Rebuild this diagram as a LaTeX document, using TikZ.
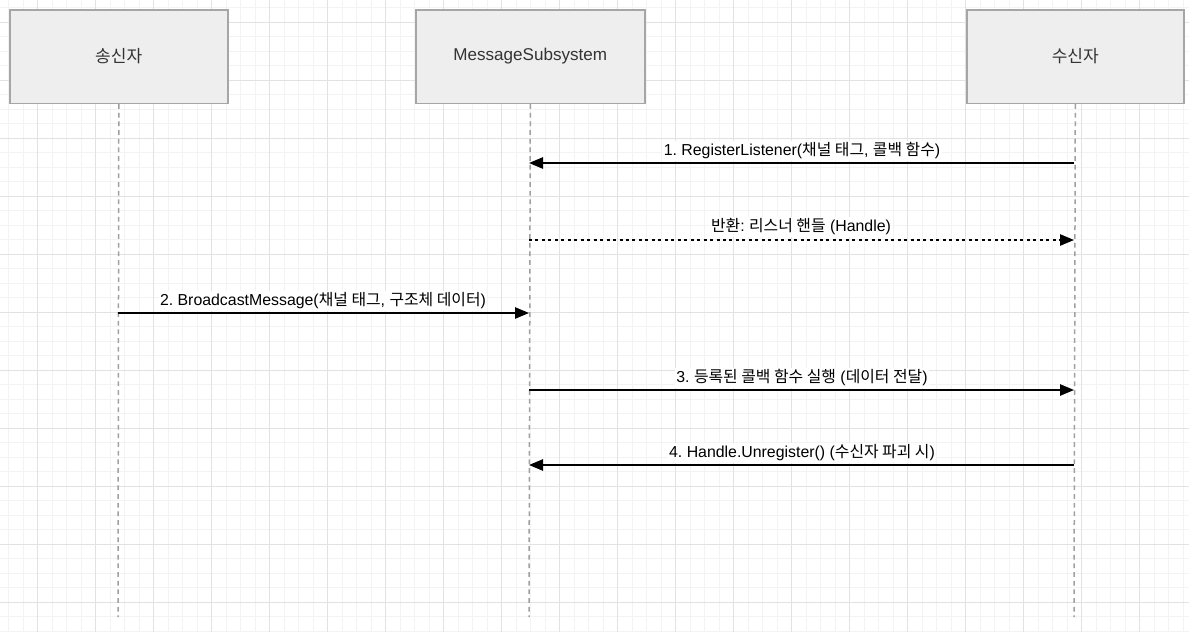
\documentclass[tikz,border=0pt]{standalone}
\usepackage{fontspec}
\setmainfont{Liberation Sans}
\newfontfamily\cjk{Noto Sans CJK KR}
\newcommand\hk[1]{{\cjk #1}}
\usetikzlibrary{arrows.meta}
\frenchspacing
\definecolor{minorgrid}{HTML}{F3F3F3}
\definecolor{majorgrid}{HTML}{E2E2E2}
\definecolor{boxfill}{HTML}{EEEEEE}
\definecolor{boxline}{HTML}{A6A6A6}
\definecolor{lifeline}{HTML}{A0A0A0}
\definecolor{boxtext}{HTML}{333333}
\tikzset{
  actor/.style={draw=boxline, fill=boxfill, line width=1.6pt*0.75, text=boxtext,
    font=\fontsize{12.8pt}{15pt}\selectfont, inner sep=0pt, anchor=north west},
  lifelinestyle/.style={draw=lifeline, line width=1.5*0.75pt, dash pattern=on 3.6pt off 2.9pt},
  msg/.style={draw=black, line width=1.5*0.75pt, -{Triangle[length=10.5pt,width=8.5pt]}},
  retmsg/.style={draw=black, line width=1.5*0.75pt, dash pattern=on 2.25pt off 2.6pt, -{Triangle[length=10.5pt,width=8.5pt]}},
  msglabel/.style={fill=white, inner sep=1pt, font=\fontsize{11.9pt}{14pt}\selectfont, text=black},
  minorline/.style={draw=minorgrid, line width=0.75pt},
  majorline/.style={draw=majorgrid, line width=0.75pt}
}
\begin{document}
\begin{tikzpicture}[x=0.75pt,y=-0.75pt]
\useasboundingbox (0,0) rectangle (1189,632);
\fill[white] (0,0) rectangle (1189,632);
% grid
\foreach \i in {0,...,82} {
  \draw[minorline] ({8.5+14.5*\i},0) -- ({8.5+14.5*\i},632);
}
\foreach \i in {0,...,43} {
  \draw[minorline] (0,{7.8+14.5*\i}) -- (1189,{7.8+14.5*\i});
}
\foreach \i in {0,...,20} {
  \draw[majorline] ({37.5+58*\i},0) -- ({37.5+58*\i},632);
}
\foreach \i in {0,...,10} {
  \draw[majorline] (0,{22.3+58*\i}) -- (1189,{22.3+58*\i});
}
% actors
\node[actor, minimum width=218*0.75pt, minimum height=93.5*0.75pt] (a) at (9,9) {\hk{송신자}};
\node[actor, minimum width=229*0.75pt, minimum height=93.5*0.75pt] (b) at (415,9) {MessageSubsystem};
\node[actor, minimum width=217*0.75pt, minimum height=93.5*0.75pt] (c) at (966,9) {\hk{수신자}};
% lifeline ends
\coordinate (aend) at (118,617);
\coordinate (bend) at (529,617);
\coordinate (cend) at (1074,617);
\draw[lifelinestyle] (a.south) -- (aend);
\draw[lifelinestyle] (b.south) -- (bend);
\draw[lifelinestyle] (c.south) -- (cend);
% message points
\coordinate (c1) at (1074,163); \coordinate (b1) at (529,163);
\coordinate (b2) at (529,240);  \coordinate (c2) at (1074,240);
\coordinate (a3) at (118,313);  \coordinate (b3) at (529,313);
\coordinate (b4) at (529,390);  \coordinate (c4) at (1074,390);
\coordinate (c5) at (1074,465); \coordinate (b5) at (529,465);
% messages
\draw[msg] (c1) -- (b1);
\node[msglabel] (l1) at (802,151) {1. RegisterListener(\hk{채널 태그}, \hk{콜백 함수})};
\draw[retmsg] (b2) -- (c2);
\node[msglabel] (l2) at (801,227) {\hk{반환}: \hk{리스너 핸들} (Handle)};
\draw[msg] (a3) -- (b3);
\node[msglabel] (l3) at (323,301) {2. BroadcastMessage(\hk{채널 태그}, \hk{구조체 데이터})};
\draw[msg] (b4) -- (c4);
\node[msglabel] (l4) at (802,378) {3. \hk{등록된 콜백 함수 실행} (\hk{데이터 전달})};
\draw[msg] (c5) -- (b5);
\node[msglabel] (l5) at (802,453) {4. Handle.Unregister() (\hk{수신자 파괴 시})};
\end{tikzpicture}
\end{document}
